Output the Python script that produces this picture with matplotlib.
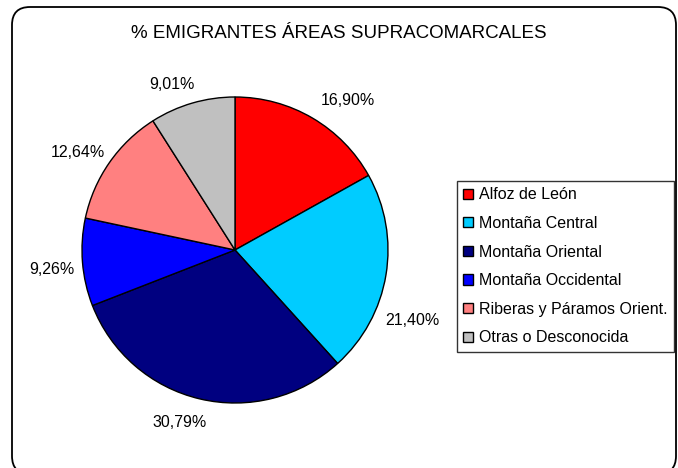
import matplotlib
matplotlib.use("Agg")
import matplotlib.pyplot as plt
from matplotlib.patches import FancyBboxPatch
from matplotlib.transforms import IdentityTransform

plt.rcParams["font.family"] = ["Liberation Sans", "DejaVu Sans"]

# Data
areas = ["Alfoz de León", "Montaña Central", "Montaña Oriental",
         "Montaña Occidental", "Riberas y Páramos Orient.", "Otras o Desconocida"]
percent = [16.90, 21.40, 30.79, 9.26, 12.64, 9.01]
title = "% EMIGRANTES ÁREAS SUPRACOMARCALES"

colors = ["#FF0000", "#00CCFF", "#000080", "#0000FF", "#FF8080", "#C0C0C0"]
# label anchor points in pie units (radius = 1)
label_pos = [(0.74, 0.98), (1.16, -0.46), (-0.36, -1.13),
             (-1.20, -0.13), (-1.03, 0.64), (-0.41, 1.08)]

W, H = 678, 468
fig = plt.figure(figsize=(W / 100, H / 100), dpi=100)

# rounded outer frame (pixel coordinates)
frame = FancyBboxPatch((12, -6), 664, 467,
                       boxstyle="round,pad=0,rounding_size=18",
                       transform=IdentityTransform(), facecolor="none",
                       edgecolor="black", linewidth=1.3, zorder=0)
fig.patches.append(frame)

fig.text(0.5, 1 - 34 / H, title, ha="center", va="center", fontsize=13.5)

cx, cy, r = 235, 250, 153
ax = fig.add_axes([(cx - r) / W, (H - cy - r) / H, 2 * r / W, 2 * r / H])
wedges, _ = ax.pie(percent, colors=colors, startangle=90, counterclock=False,
                   wedgeprops=dict(edgecolor="black", linewidth=1.0))
ax.set_xlim(-1, 1)
ax.set_ylim(-1, 1)
ax.set_aspect("equal")
ax.axis("off")

for v, (lx, ly) in zip(percent, label_pos):
    ax.text(lx, ly, f"{v:.2f}%".replace(".", ","), ha="center", va="center",
            fontsize=11.5, clip_on=False)

leg = fig.legend(wedges, areas, loc="upper left",
                 bbox_to_anchor=(457 / W, 1 - 181 / H), borderaxespad=0,
                 fontsize=11.5, frameon=True, fancybox=False,
                 handlelength=0.6, handleheight=0.6, handletextpad=0.38,
                 labelspacing=0.85, borderpad=0.4)
leg.get_frame().set_edgecolor("black")
leg.get_frame().set_linewidth(1.0)
for h in leg.legend_handles:
    h.set_linewidth(1.0)

fig.savefig("out.png", dpi=100)
